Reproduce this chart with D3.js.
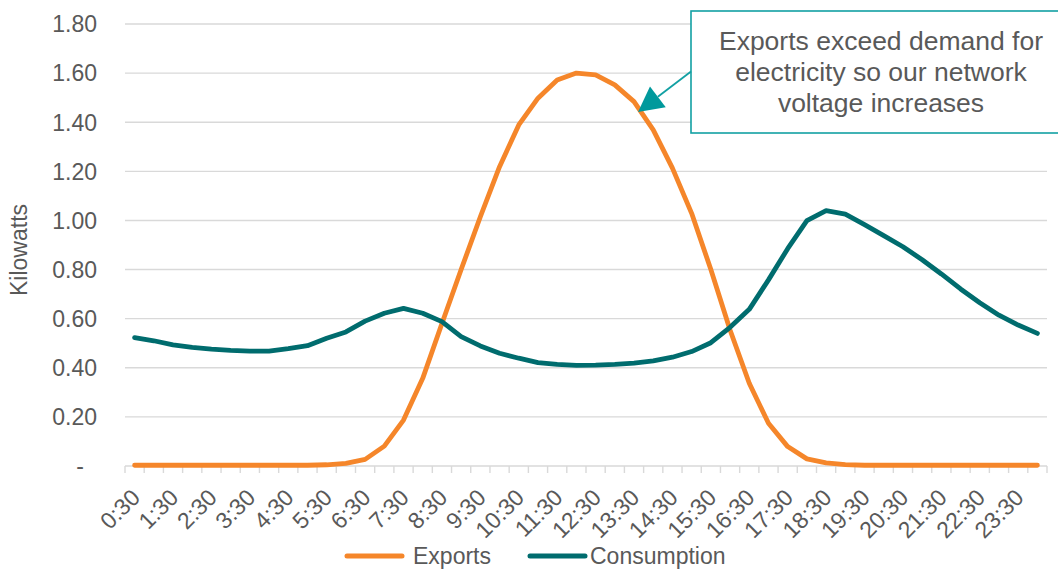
<!DOCTYPE html>
<html>
<head>
<meta charset="utf-8">
<script src="https://cdn.jsdelivr.net/npm/d3@7/dist/d3.min.js"></script>
<style>
  html, body { margin: 0; padding: 0; background: #ffffff; }
  svg { display: block; font-family: "Liberation Sans", Arial, sans-serif; }
</style>
</head>
<body>
<svg id="chart" width="1058" height="569"></svg>
<script>
// Half-hourly periods across the day
const times = [
  "0:30","1:00","1:30","2:00","2:30","3:00","3:30","4:00","4:30","5:00","5:30","6:00",
  "6:30","7:00","7:30","8:00","8:30","9:00","9:30","10:00","10:30","11:00","11:30","12:00",
  "12:30","13:00","13:30","14:00","14:30","15:00","15:30","16:00","16:30","17:00","17:30","18:00",
  "18:30","19:00","19:30","20:00","20:30","21:00","21:30","22:00","22:30","23:00","23:30","0:00"
];

// Labels printed on the time axis
const timeLabels = [
  "0:30","1:30","2:30","3:30","4:30","5:30","6:30","7:30","8:30","9:30","10:30","11:30",
  "12:30","13:30","14:30","15:30","16:30","17:30","18:30","19:30","20:30","21:30","22:30","23:30"
];

// Solar exports (kW)
const exportsKw = [
  0.003, 0.003, 0.003, 0.003, 0.003, 0.003, 0.003, 0.003, 0.003, 0.003, 0.005, 0.011,
  0.027, 0.081, 0.187, 0.357, 0.580, 0.800, 1.015, 1.219, 1.389, 1.498, 1.572, 1.600,
  1.593, 1.552, 1.484, 1.369, 1.213, 1.029, 0.800, 0.554, 0.337, 0.174, 0.079, 0.029,
  0.013, 0.006, 0.003, 0.003, 0.003, 0.003, 0.003, 0.003, 0.003, 0.003, 0.003, 0.003
];

// Household consumption (kW)
const consumptionKw = [
  0.523, 0.510, 0.493, 0.483, 0.476, 0.471, 0.468, 0.468, 0.478, 0.490, 0.520, 0.546,
  0.590, 0.622, 0.642, 0.622, 0.588, 0.527, 0.489, 0.459, 0.439, 0.421, 0.414, 0.410,
  0.411, 0.414, 0.419, 0.428, 0.443, 0.466, 0.502, 0.565, 0.638, 0.758, 0.885, 0.999,
  1.040, 1.026, 0.983, 0.938, 0.893, 0.840, 0.782, 0.721, 0.665, 0.614, 0.574, 0.540
];

const yTicks = [0, 0.2, 0.4, 0.6, 0.8, 1.0, 1.2, 1.4, 1.6, 1.8];

const seriesNames = ["Exports", "Consumption"];
const calloutLines = ["Exports exceed demand for", "electricity so our network", "voltage increases"];

const textColor = "#595959";
const gridColor = "#D9D9D9";
const colors = { "Exports": "#F5862A", "Consumption": "#006C6E" };
const calloutColor = "#12A0A3";

const svg = d3.select("#chart");
const plot = { left: 125, right: 1047, top: 24, bottom: 466 };

const x = d3.scaleBand().domain(times).range([plot.left, plot.right]);
const y = d3.scaleLinear().domain([0, 1.8]).range([plot.bottom, plot.top]);
const cx = t => x(t) + x.bandwidth() / 2;

// Horizontal gridlines
svg.append("g")
  .selectAll("line")
  .data(yTicks.filter(v => v > 0))
  .join("line")
  .attr("x1", plot.left).attr("x2", plot.right)
  .attr("y1", d => y(d)).attr("y2", d => y(d))
  .attr("stroke", gridColor).attr("stroke-width", 1.4);

// Y tick labels
const fmt = d3.format(".2f");
svg.append("g")
  .selectAll("text")
  .data(yTicks)
  .join("text")
  .attr("x", d => d === 0 ? 80 : 97)
  .attr("y", d => y(d))
  .attr("dy", "0.36em")
  .attr("text-anchor", d => d === 0 ? "middle" : "end")
  .attr("fill", textColor)
  .attr("font-size", 23)
  .text(d => d === 0 ? "-" : fmt(d));

// Y axis title
svg.append("text")
  .attr("transform", `translate(27, 250) rotate(-90)`)
  .attr("text-anchor", "middle")
  .attr("fill", textColor)
  .attr("font-size", 23)
  .text("Kilowatts");

// X axis baseline and tick marks between categories
const xAxis = d3.axisBottom(x).tickSize(0).tickFormat("");
const xg = svg.append("g").attr("transform", `translate(0, ${plot.bottom})`).call(xAxis);
xg.select(".domain").attr("stroke", gridColor).attr("stroke-width", 1.4).attr("d", `M${plot.left},0H${plot.right}`);
xg.selectAll(".tick").remove();

const boundaries = times.map(t => x(t)).concat([plot.right]);
xg.append("g")
  .selectAll("line")
  .data(boundaries)
  .join("line")
  .attr("x1", d => d).attr("x2", d => d)
  .attr("y1", 0).attr("y2", 7)
  .attr("stroke", gridColor).attr("stroke-width", 1.4);

// Rotated time labels
svg.append("g")
  .selectAll("text")
  .data(timeLabels)
  .join("text")
  .attr("transform", d => `translate(${cx(d) + 1}, ${plot.bottom + 27}) rotate(-45)`)
  .attr("text-anchor", "end")
  .attr("dy", "0.36em")
  .attr("fill", textColor)
  .attr("font-size", 23)
  .text(d => d);

// Series lines
const series = [
  { name: "Exports", values: exportsKw },
  { name: "Consumption", values: consumptionKw }
];
const line = d3.line()
  .x((d, i) => cx(times[i]))
  .y(d => y(d));

svg.append("g")
  .selectAll("path")
  .data(series)
  .join("path")
  .attr("d", d => line(d.values))
  .attr("fill", "none")
  .attr("stroke", d => colors[d.name])
  .attr("stroke-width", 4.8)
  .attr("stroke-linejoin", "round")
  .attr("stroke-linecap", "round");

// Legend
const legendItems = [
  { name: seriesNames[0], x1: 347, x2: 402, tx: 413 },
  { name: seriesNames[1], x1: 530, x2: 585, tx: 590 }
];
const lg = svg.append("g");
lg.selectAll("line")
  .data(legendItems)
  .join("line")
  .attr("x1", d => d.x1).attr("x2", d => d.x2)
  .attr("y1", 556).attr("y2", 556)
  .attr("stroke", d => colors[d.name])
  .attr("stroke-width", 5)
  .attr("stroke-linecap", "round");
lg.selectAll("text")
  .data(legendItems)
  .join("text")
  .attr("x", d => d.tx)
  .attr("y", 555.5)
  .attr("dy", "0.36em")
  .attr("fill", textColor)
  .attr("font-size", 23)
  .text(d => d.name);

// Callout box with arrow
const box = { x: 691, y: 11, w: 376, h: 122 };
const call = svg.append("g");
call.append("rect")
  .attr("x", box.x).attr("y", box.y)
  .attr("width", box.w).attr("height", box.h)
  .attr("fill", "#ffffff")
  .attr("stroke", calloutColor)
  .attr("stroke-width", 1.6);

call.selectAll("text")
  .data(calloutLines)
  .join("text")
  .attr("x", 881)
  .attr("y", (d, i) => 50 + i * 30.8)
  .attr("text-anchor", "middle")
  .attr("fill", textColor)
  .attr("font-size", 26.5)
  .text(d => d);

const start = [box.x, 71.5];
const tip = [638, 112];
const dx = tip[0] - start[0], dy = tip[1] - start[1];
const len = Math.hypot(dx, dy);
const ux = dx / len, uy = dy / len;
const headLen = 25, headHalf = 13;
const base = [tip[0] - ux * headLen, tip[1] - uy * headLen];
call.append("line")
  .attr("x1", start[0]).attr("y1", start[1])
  .attr("x2", base[0]).attr("y2", base[1])
  .attr("stroke", calloutColor).attr("stroke-width", 1.8);
call.append("path")
  .attr("d", `M${tip[0]},${tip[1]}L${base[0] - uy * headHalf},${base[1] + ux * headHalf}L${base[0] + uy * headHalf},${base[1] - ux * headHalf}Z`)
  .attr("fill", "#00999C");
</script>
</body>
</html>
